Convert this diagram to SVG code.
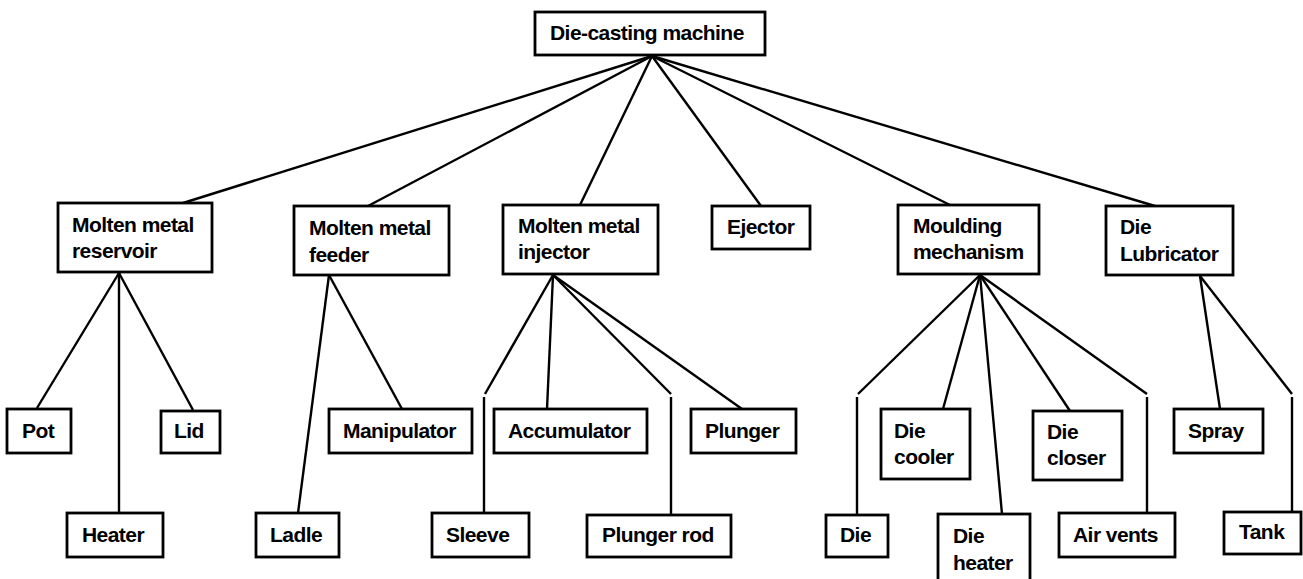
<svg xmlns="http://www.w3.org/2000/svg" width="1303" height="579" viewBox="0 0 1303 579">
<style>
rect{fill:#fff;stroke:#000;stroke-width:2.8}
text{font-family:"Liberation Sans",Arial,sans-serif;font-weight:bold;font-size:21px;letter-spacing:-0.55px;fill:#000}
#connectors line{stroke:#000;stroke-width:2.4;stroke-linecap:butt}
</style>
<rect x="0" y="0" width="1303" height="579" style="stroke:none"/>
<g id="connectors">
<line x1="652" y1="56" x2="183" y2="203"/>
<line x1="652" y1="56" x2="368" y2="206"/>
<line x1="652" y1="56" x2="580" y2="205"/>
<line x1="652" y1="56" x2="761" y2="206"/>
<line x1="652" y1="56" x2="950" y2="205"/>
<line x1="652" y1="56" x2="1155" y2="206"/>
<line x1="119" y1="273" x2="37" y2="408"/>
<line x1="119" y1="273" x2="119" y2="513"/>
<line x1="119" y1="273" x2="193" y2="410"/>
<line x1="329" y1="275" x2="298" y2="513"/>
<line x1="329" y1="275" x2="402" y2="409"/>
<line x1="553" y1="275" x2="485" y2="394"/>
<line x1="484" y1="397" x2="484" y2="513"/>
<line x1="553" y1="275" x2="547" y2="409"/>
<line x1="553" y1="275" x2="671" y2="394"/>
<line x1="671" y1="397" x2="671" y2="515"/>
<line x1="553" y1="275" x2="742" y2="409"/>
<line x1="980" y1="275" x2="858" y2="394"/>
<line x1="857" y1="397" x2="857" y2="515"/>
<line x1="980" y1="275" x2="943" y2="409"/>
<line x1="980" y1="275" x2="1002" y2="514"/>
<line x1="980" y1="275" x2="1070" y2="411"/>
<line x1="980" y1="275" x2="1147" y2="394"/>
<line x1="1147" y1="397" x2="1147" y2="513"/>
<line x1="1200" y1="276" x2="1220" y2="409"/>
<line x1="1200" y1="276" x2="1292" y2="394"/>
<line x1="1292" y1="397" x2="1292" y2="512"/>
</g>
<g id="root"><rect x="535" y="12" width="230" height="43"/><text x="550" y="40">Die-casting machine</text></g>
<g id="reservoir"><rect x="58" y="203" width="154" height="69"/><text x="72" y="232">Molten metal</text><text x="72" y="258">reservoir</text></g>
<g id="feeder"><rect x="294" y="206" width="155" height="69"/><text x="309" y="235">Molten metal</text><text x="309" y="262">feeder</text></g>
<g id="injector"><rect x="503" y="205" width="155" height="69"/><text x="518" y="233">Molten metal</text><text x="518" y="259">injector</text></g>
<g id="ejector"><rect x="712" y="206" width="98" height="43"/><text x="727" y="234">Ejector</text></g>
<g id="moulding"><rect x="898" y="205" width="141" height="69"/><text x="913" y="233">Moulding</text><text x="913" y="259">mechanism</text></g>
<g id="lubricator"><rect x="1106" y="206" width="127" height="69"/><text x="1120" y="234">Die</text><text x="1120" y="261">Lubricator</text></g>
<g id="pot"><rect x="7" y="409" width="64" height="44"/><text x="22" y="438">Pot</text></g>
<g id="lid"><rect x="161" y="411" width="59" height="42"/><text x="174" y="438">Lid</text></g>
<g id="heater"><rect x="67" y="513" width="96" height="44"/><text x="82" y="542">Heater</text></g>
<g id="ladle"><rect x="256" y="513" width="83" height="44"/><text x="270" y="542">Ladle</text></g>
<g id="manipulator"><rect x="329" y="409" width="143" height="44"/><text x="343" y="438">Manipulator</text></g>
<g id="accumulator"><rect x="494" y="409" width="153" height="44"/><text x="508" y="438">Accumulator</text></g>
<g id="sleeve"><rect x="432" y="513" width="97" height="44"/><text x="446" y="542">Sleeve</text></g>
<g id="plungerrod"><rect x="587" y="515" width="144" height="42"/><text x="602" y="542">Plunger rod</text></g>
<g id="plunger"><rect x="691" y="409" width="105" height="44"/><text x="705" y="438">Plunger</text></g>
<g id="die"><rect x="826" y="515" width="62" height="42"/><text x="840" y="542">Die</text></g>
<g id="diecooler"><rect x="881" y="409" width="89" height="70"/><text x="894" y="438">Die</text><text x="894" y="464">cooler</text></g>
<g id="dieheater"><rect x="938" y="514" width="92" height="80"/><text x="953" y="543">Die</text><text x="953" y="570">heater</text></g>
<g id="diecloser"><rect x="1033" y="411" width="89" height="69"/><text x="1047" y="439">Die</text><text x="1047" y="465">closer</text></g>
<g id="airvents"><rect x="1059" y="513" width="116" height="44"/><text x="1073" y="542">Air vents</text></g>
<g id="spray"><rect x="1174" y="409" width="89" height="44"/><text x="1188" y="438">Spray</text></g>
<g id="tank"><rect x="1224" y="512" width="77" height="42"/><text x="1239" y="539">Tank</text></g>
</svg>
